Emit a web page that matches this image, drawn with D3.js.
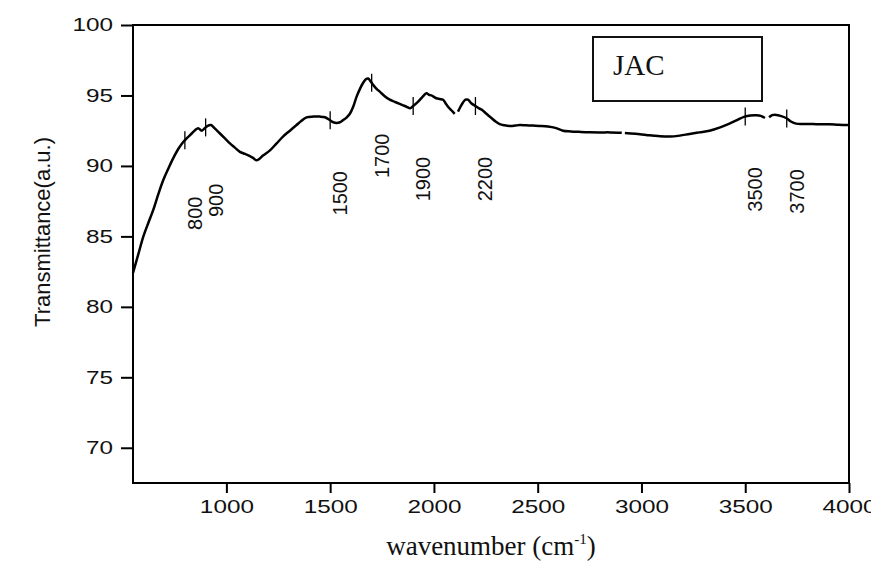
<!DOCTYPE html>
<html>
<head>
<meta charset="utf-8">
<script src="https://cdn.jsdelivr.net/npm/d3@7/dist/d3.min.js"></script>
<style>
  html, body { margin: 0; padding: 0; background: #fff; }
  svg { display: block; }
</style>
</head>
<body>
<svg id="chart" width="871" height="562"></svg>
<script>
// FTIR spectrum of the JAC sample
const wavenumber = [
  550, 575, 600, 625, 648, 672, 696, 720, 744, 768, 792, 812, 833, 850, 864, 881, 897, 910, 925, 945,
  969, 993, 1017, 1041, 1065, 1090, 1113, 1130, 1146, 1178, 1210, 1242, 1274, 1306, 1338, 1362, 1386, 1420, 1450, 1475,
  1498, 1515, 1531, 1547, 1563, 1580, 1595, 1611, 1627, 1643, 1659, 1672, 1683, 1695, 1710, 1725, 1739, 1763, 1787, 1811,
  1835, 1860, 1885, 1900, 1924, 1945, 1964, 1976, 1988, 2000, 2012, 2028, 2044, 2056, 2068, 2084, 2100, 2108, 2116, 2128,
  2140, 2152, 2164, 2180, 2200, 2215, 2229, 2253, 2277, 2297, 2317, 2340, 2365, 2390, 2413, 2445, 2477, 2510, 2549, 2585,
  2622, 2660, 2700, 2750, 2800, 2850, 2905, 2912, 2920, 2970, 3023, 3080, 3136, 3185, 3232, 3280, 3328, 3376, 3424, 3460,
  3497, 3525, 3553, 3575, 3595, 3605, 3615, 3630, 3649, 3670, 3697, 3720, 3745, 3785, 3825, 3865, 3906, 3950, 4000
];
const transmittance = [
  82.4, 83.7, 85.0, 86.0, 86.9, 88.0, 89.0, 89.8, 90.55, 91.2, 91.7, 92.0, 92.3, 92.55, 92.67, 92.5, 92.7, 92.85, 92.9, 92.65,
  92.3, 91.95, 91.6, 91.3, 91.0, 90.85, 90.7, 90.55, 90.4, 90.75, 91.1, 91.6, 92.1, 92.5, 92.9, 93.2, 93.45, 93.5, 93.5, 93.45,
  93.26, 93.1, 93.05, 93.1, 93.26, 93.45, 93.7, 94.2, 94.9, 95.45, 95.9, 96.15, 96.2, 96.0, 95.7, 95.45, 95.27, 94.95, 94.7, 94.55,
  94.4, 94.25, 94.1, 94.25, 94.56, 94.9, 95.15, 95.05, 95.0, 94.9, 94.8, 94.75, 94.7, 94.45, 94.2, 93.95, 93.7, null, 93.85, 94.2,
  94.5, 94.7, 94.7, 94.45, 94.25, 94.1, 94.0, 93.7, 93.4, 93.15, 92.96, 92.88, 92.84, 92.86, 92.9, 92.88, 92.86, 92.84, 92.8, 92.7,
  92.5, 92.45, 92.42, 92.39, 92.38, 92.38, 92.36, null, 92.33, 92.28, 92.2, 92.12, 92.08, 92.15, 92.27, 92.38, 92.5, 92.72, 93.0, 93.25,
  93.5, 93.58, 93.6, 93.55, 93.4, null, 93.45, 93.6, 93.62, 93.55, 93.4, 93.15, 93.0, 92.98, 92.98, 92.95, 92.96, 92.92, 92.9
];
// marked absorption bands (cm-1)
const bands = [800, 900, 1500, 1700, 1900, 2200, 3500, 3700];
const xTicks = [1000, 1500, 2000, 2500, 3000, 3500, 4000];
const yTicks = [70, 75, 80, 85, 90, 95, 100];
const sampleName = "JAC";

const svg = d3.select("#chart");
const plotLeft = 133, plotRight = 849, plotTop = 25, plotBottom = 483;

const x = d3.scaleLinear().domain([550, 4000]).range([plotLeft, plotRight]);
const y = d3.scaleLinear().domain([67.5, 100]).range([plotBottom, plotTop]);

const points = wavenumber.map((w, i) => ({ w, t: transmittance[i] }));

// value of the spectrum at a given wavenumber (used to seat band markers on the trace)
function traceAt(w) {
  const valid = points.filter(p => p.t != null);
  for (let i = 0; i < valid.length - 1; i++) {
    const a = valid[i], b = valid[i + 1];
    if (w >= a.w && w <= b.w) {
      return a.t + (b.t - a.t) * (w - a.w) / (b.w - a.w);
    }
  }
  return valid[valid.length - 1].t;
}

// axes
const stretch = 1.35;
const yAxis = d3.axisLeft(y).tickValues(yTicks).tickFormat(d3.format("d"))
  .tickSize(12).tickPadding(8).tickSizeOuter(0);
const gy = svg.append("g").attr("transform", `translate(${plotLeft},0)`).call(yAxis);
const xAxis = d3.axisBottom(x).tickValues(xTicks).tickFormat(d3.format("d"))
  .tickSize(10).tickPadding(7).tickSizeOuter(0);
const gx = svg.append("g").attr("transform", `translate(0,${plotBottom})`).call(xAxis);

[gx, gy].forEach(g => {
  g.select(".domain").remove();
  g.selectAll(".tick line").attr("stroke", "#000").attr("stroke-width", 2);
  g.selectAll(".tick text")
    .attr("fill", "#111")
    .style("font-family", "'Liberation Sans', Arial, sans-serif")
    .style("font-size", "18px");
});
gy.selectAll(".tick text")
  .attr("x", -20 / stretch)
  .attr("transform", `scale(${stretch},1)`);
gx.selectAll(".tick text")
  .attr("transform", `scale(${stretch},1)`);

// plot frame
svg.append("rect")
  .attr("x", plotLeft).attr("y", plotTop)
  .attr("width", plotRight - plotLeft).attr("height", plotBottom - plotTop)
  .attr("fill", "none").attr("stroke", "#000").attr("stroke-width", 2);

// spectrum trace
const line = d3.line()
  .defined(d => d.t != null)
  .x(d => x(d.w))
  .y(d => y(d.t))
  .curve(d3.curveCatmullRom.alpha(0.5));

svg.append("path")
  .datum(points)
  .attr("fill", "none")
  .attr("stroke", "#000")
  .attr("stroke-width", 2.5)
  .attr("stroke-linejoin", "round")
  .attr("d", line);

// band markers and labels
const bandG = svg.append("g");
bands.forEach(b => {
  const bx = x(b), by = y(traceAt(b));
  bandG.append("line")
    .attr("x1", bx).attr("x2", bx)
    .attr("y1", by - 9).attr("y2", by + 9)
    .attr("stroke", "#000").attr("stroke-width", 1.3);
  bandG.append("text")
    .attr("transform", `translate(${bx + 10},${by + 73}) rotate(-90)`)
    .attr("text-anchor", "middle")
    .attr("dominant-baseline", "central")
    .attr("fill", "#111")
    .style("font-family", "'Liberation Sans', Arial, sans-serif")
    .style("font-size", "20px")
    .text(b);
});

// axis titles
svg.append("text")
  .attr("transform", `translate(42,232) rotate(-90)`)
  .attr("text-anchor", "middle")
  .attr("dominant-baseline", "central")
  .attr("fill", "#111")
  .style("font-family", "'Liberation Sans', Arial, sans-serif")
  .style("font-size", "22px")
  .text("Transmittance(a.u.)");

const xt = svg.append("text")
  .attr("x", (plotLeft + plotRight) / 2).attr("y", 555)
  .attr("text-anchor", "middle")
  .attr("fill", "#111")
  .style("font-family", "'Liberation Serif', 'Times New Roman', serif")
  .style("font-size", "27px");
xt.append("tspan").text("wavenumber (cm");
xt.append("tspan").attr("dy", -11).style("font-size", "15px").text("-1");
xt.append("tspan").attr("dy", 11).text(")");

// sample label box
svg.append("rect")
  .attr("x", 593).attr("y", 37).attr("width", 169).attr("height", 64)
  .attr("fill", "#fff").attr("stroke", "#111").attr("stroke-width", 2);
svg.append("text")
  .attr("x", 613).attr("y", 75)
  .attr("fill", "#111")
  .style("font-family", "'Liberation Serif', 'Times New Roman', serif")
  .style("font-size", "29px")
  .text(sampleName);
</script>
</body>
</html>
